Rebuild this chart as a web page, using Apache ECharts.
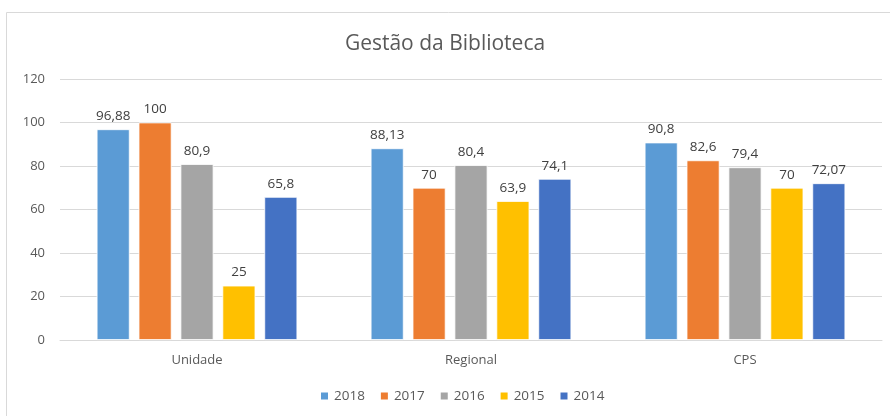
<!DOCTYPE html>
<html><head><meta charset="utf-8">
<script src="https://cdn.jsdelivr.net/npm/echarts@6/dist/echarts.min.js"></script>
<style>html,body{margin:0;padding:0;background:#fff}#c{width:890px;height:416px}</style>
</head><body><div id="c"></div>
<script>
var categories = ['Unidade', 'Regional', 'CPS'];
var seriesNames = ['2018', '2017', '2016', '2015', '2014'];
var v2018 = [96.88, 88.13, 90.8];
var v2017 = [100, 70, 82.6];
var v2016 = [80.9, 80.4, 79.4];
var v2015 = [25, 63.9, 70];
var v2014 = [65.8, 74.1, 72.07];
var labels2018 = ['96,88', '88,13', '90,8'];
var labels2017 = ['100', '70', '82,6'];
var labels2016 = ['80,9', '80,4', '79,4'];
var labels2015 = ['25', '63,9', '70'];
var labels2014 = ['65,8', '74,1', '72,07'];
var yTicks = [0, 20, 40, 60, 80, 100, 120];

var colors = ['#5B9BD5', '#ED7D31', '#A5A5A5', '#FFC000', '#4472C4'];
var values = [v2018, v2017, v2016, v2015, v2014];
var lbls = [labels2018, labels2017, labels2016, labels2015, labels2014];
var FONT = "'Open Sans', 'Noto Sans', sans-serif";

var chart = echarts.init(document.getElementById('c'), null, {renderer: 'canvas'});
var series = seriesNames.map(function (n, i) {
  return {
    name: n, type: 'bar', barWidth: 33, barGap: '27%',
    data: values[i],
    itemStyle: {color: colors[i], borderColor: '#ffffff', borderWidth: 0.8},
    label: {
      show: true, position: 'top', distance: 6, color: '#404040',
      fontFamily: FONT, fontSize: 13.5,
      formatter: function (p) { return lbls[i][p.dataIndex]; }
    }
  };
});
chart.setOption({
  animation: false,
  color: colors,
  graphic: [{type: 'rect', shape: {x: 6.5, y: 12.5, width: 900, height: 420},
    style: {fill: 'none', stroke: '#d9d9d9', lineWidth: 1}, silent: true, z: -1}],
  title: {
    text: 'Gestão da Biblioteca', left: 'center', top: 29,
    textStyle: {fontFamily: FONT, fontSize: 21, fontWeight: 'normal', color: '#595959'}
  },
  legend: {
    data: seriesNames, bottom: 8, left: 314, itemWidth: 9, itemHeight: 9,
    itemGap: 14, icon: 'rect',
    textStyle: {fontFamily: FONT, fontSize: 13.5, color: '#595959'}
  },
  grid: {left: 60, right: 8, top: 79, bottom: 76, containLabel: false},
  xAxis: {
    type: 'category', data: categories,
    axisLine: {lineStyle: {color: '#d9d9d9'}}, axisTick: {show: false},
    axisLabel: {color: '#595959', fontFamily: FONT, fontSize: 13, margin: 14}
  },
  yAxis: {
    type: 'value', min: yTicks[0], max: yTicks[yTicks.length - 1], interval: 20,
    axisLine: {show: false}, axisTick: {show: false},
    splitLine: {lineStyle: {color: '#d9d9d9'}},
    axisLabel: {color: '#595959', fontFamily: FONT, fontSize: 13, margin: 15}
  },
  series: series
});
</script></body></html>
